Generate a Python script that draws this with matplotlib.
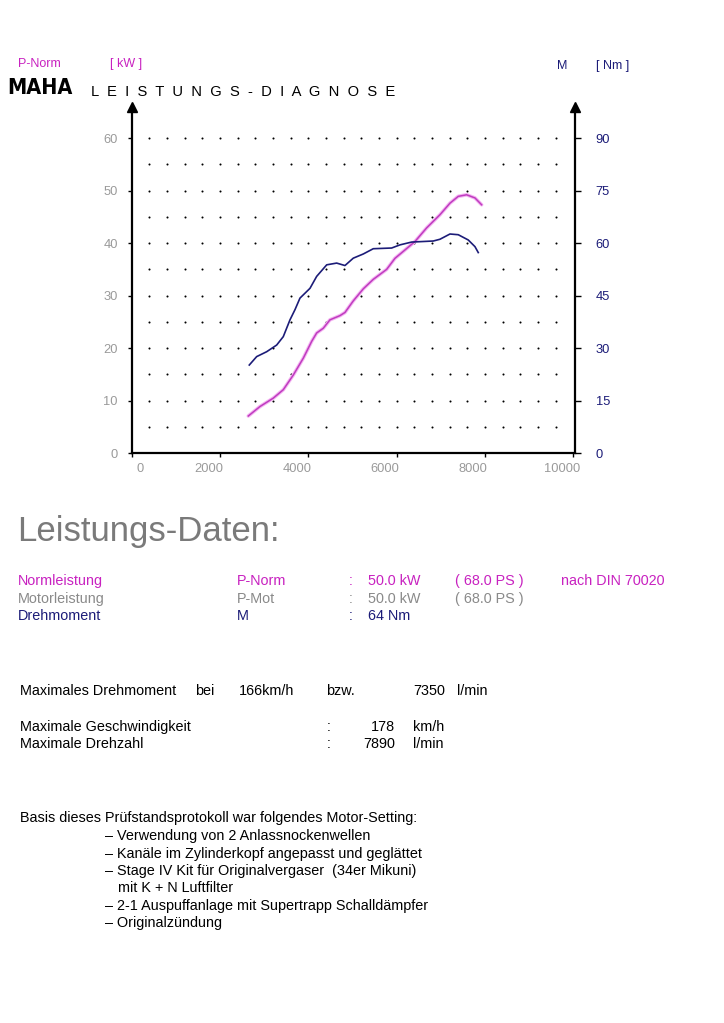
import numpy as np
import matplotlib.pyplot as plt
from matplotlib.transforms import ScaledTranslation

plt.rcParams['font.family'] = ['Liberation Sans', 'DejaVu Sans']

# power curve (P-Norm, kW)
p_rpm = [2641, 2905, 3207, 3433, 3660, 3886, 4076, 4189, 4339, 4490, 4717, 4830,
         5018, 5245, 5471, 5774, 5962, 6189, 6415, 6680, 6981, 7208, 7396, 7585,
         7774, 7925]
p_kw = [7.1, 8.9, 10.5, 12.1, 14.9, 18.1, 21.3, 22.9, 23.8, 25.4, 26.2, 26.8,
        29.0, 31.3, 33.1, 35.0, 37.1, 38.7, 40.3, 42.9, 45.4, 47.6, 48.9, 49.2,
        48.6, 47.3]

# torque curve (M, Nm)
m_rpm = [2663, 2830, 3057, 3283, 3433, 3585, 3698, 3811, 4038, 4189, 4416, 4642,
         4830, 5018, 5245, 5471, 5887, 6076, 6340, 6830, 6981, 7208, 7396, 7622,
         7774, 7849]
m_nm = [25.2, 27.6, 29.0, 30.9, 33.3, 38.1, 41.0, 44.3, 47.1, 50.5, 53.8, 54.3,
        53.6, 55.7, 56.9, 58.4, 58.6, 59.5, 60.3, 60.6, 61.1, 62.6, 62.4, 60.9,
        59.0, 57.3]

x_ticks = [0, 2000, 4000, 6000, 8000, 10000]
kw_ticks = [0, 10, 20, 30, 40, 50, 60]
nm_ticks = [0, 15, 30, 45, 60, 75, 90]

MAG = '#c822c0'
NAVY = '#1c1c78'
GRAY = '#8a8a8a'
FS = 10.4

W, H = 724, 1023
fig = plt.figure(figsize=(W / 100, H / 100), dpi=100)
fig.patch.set_facecolor('white')


def ftext(x, y, s, **kw):
    kw.setdefault('va', 'center')
    kw.setdefault('fontsize', FS)
    return fig.text(x / W, 1 - y / H, s, **kw)


ax = fig.add_axes([131.7 / W, (H - 453.3) / H, 443.3 / W, 346.8 / H])
ax.set_xlim(0, 10040)
ax.set_ylim(0, 66)

# dotted grid
gx, gy = np.meshgrid(np.arange(400, 9601, 400), np.arange(5, 61, 5))
ax.scatter(gx.ravel(), gy.ravel(), s=2.2, c='k', linewidths=0, zorder=1)

ax.plot(p_rpm, p_kw, color='#f4b4f2', lw=2.6, zorder=2, solid_capstyle='round')
ax.plot(p_rpm, p_kw, color='#bf3cbf', lw=1.1, zorder=3)

for s in ['top', 'right']:
    ax.spines[s].set_visible(False)
for s in ['left', 'bottom']:
    ax.spines[s].set_linewidth(1.6)
    ax.spines[s].set_color('black')

ax.set_xticks(x_ticks)
ax.set_yticks(kw_ticks)
ax.tick_params(axis='x', direction='out', length=3, width=1, pad=4,
               labelsize=9.3, labelcolor='#9a9a9a')
ax.tick_params(axis='y', direction='out', length=3, width=1, pad=7,
               labelsize=9.3, labelcolor='#9a9a9a')

for i, lab in enumerate(ax.get_xticklabels()):
    dx = 0.08 if i == 0 else -0.115
    lab.set_transform(lab.get_transform() + ScaledTranslation(dx, 0, fig.dpi_scale_trans))

ax2 = ax.twinx()
ax2.set_ylim(0, 99)
ax2.set_yticks(nm_ticks)
for s in ['top', 'left', 'bottom']:
    ax2.spines[s].set_visible(False)
ax2.spines['right'].set_linewidth(1.6)
ax2.tick_params(axis='y', direction='out', length=4.3, width=1, pad=10.5,
                labelsize=9.3, labelcolor=NAVY)
ax2.plot(m_rpm, m_nm, color=NAVY, lw=1.2, zorder=3)

# axis arrow heads
ax.plot([0], [1], marker='^', ms=7, color='k', transform=ax.transAxes, clip_on=False)
ax2.plot([1], [1], marker='^', ms=7, color='k', transform=ax2.transAxes, clip_on=False)

# header
ftext(18, 64, 'P-Norm', color=MAG, fontsize=9)
ftext(110, 64, '[ kW ]', color=MAG, fontsize=9)
ftext(557, 66, 'M', color=NAVY, fontsize=9)
ftext(596, 66, '[ Nm ]', color=NAVY, fontsize=9)
ftext(7, 88, 'MAHA', color='black', fontsize=15.5, fontweight='heavy',
      family='DejaVu Sans', stretch='condensed')
ftext(91, 92, 'L  E  I  S  T  U  N  G  S  -  D  I  A  G  N  O  S  E',
      color='black', fontsize=10.6)

# Leistungs-Daten
ftext(17, 532, 'Leistungs-Daten:', color='#7a7a7a', fontsize=25)

rows = [
    (581, MAG, ['Normleistung', 'P-Norm', ':', '50.0 kW', '( 68.0 PS )', 'nach DIN 70020']),
    (599, GRAY, ['Motorleistung', 'P-Mot', ':', '50.0 kW', '( 68.0 PS )', '']),
    (616, NAVY, ['Drehmoment', 'M', ':', '64 Nm', '', '']),
]
cols = [18, 237, 349, 368, 455, 561]
for y, c, cells in rows:
    for x, t in zip(cols, cells):
        if t:
            ftext(x, y, t, color=c)

ftext(20, 691, 'Maximales Drehmoment', color='black')
ftext(195, 691, 'bei', color='black')
ftext(239, 691, '166km/h', color='black')
ftext(326, 691, 'bzw.', color='black')
ftext(445, 691, '7350', color='black', ha='right')
ftext(457, 691, 'l/min', color='black')

ftext(20, 727, 'Maximale Geschwindigkeit', color='black')
ftext(327, 727, ':', color='black')
ftext(395, 727, '178', color='black', ha='right')
ftext(413, 727, 'km/h', color='black')
ftext(20, 744, 'Maximale Drehzahl', color='black')
ftext(327, 744, ':', color='black')
ftext(395, 744, '7890', color='black', ha='right')
ftext(413, 744, 'l/min', color='black')

ftext(20, 818, 'Basis dieses Prüfstandsprotokoll war folgendes Motor-Setting:', color='black')
setting = [
    (105, 836, '– Verwendung von 2 Anlassnockenwellen'),
    (105, 854, '– Kanäle im Zylinderkopf angepasst und geglättet'),
    (105, 871, '– Stage IV Kit für Originalvergaser  (34er Mikuni)'),
    (118, 888, 'mit K + N Luftfilter'),
    (105, 906, '– 2-1 Auspuffanlage mit Supertrapp Schalldämpfer'),
    (105, 923, '– Originalzündung'),
]
for x, y, t in setting:
    ftext(x, y, t, color='black')

fig.savefig('out.png', dpi=100, facecolor='white')
